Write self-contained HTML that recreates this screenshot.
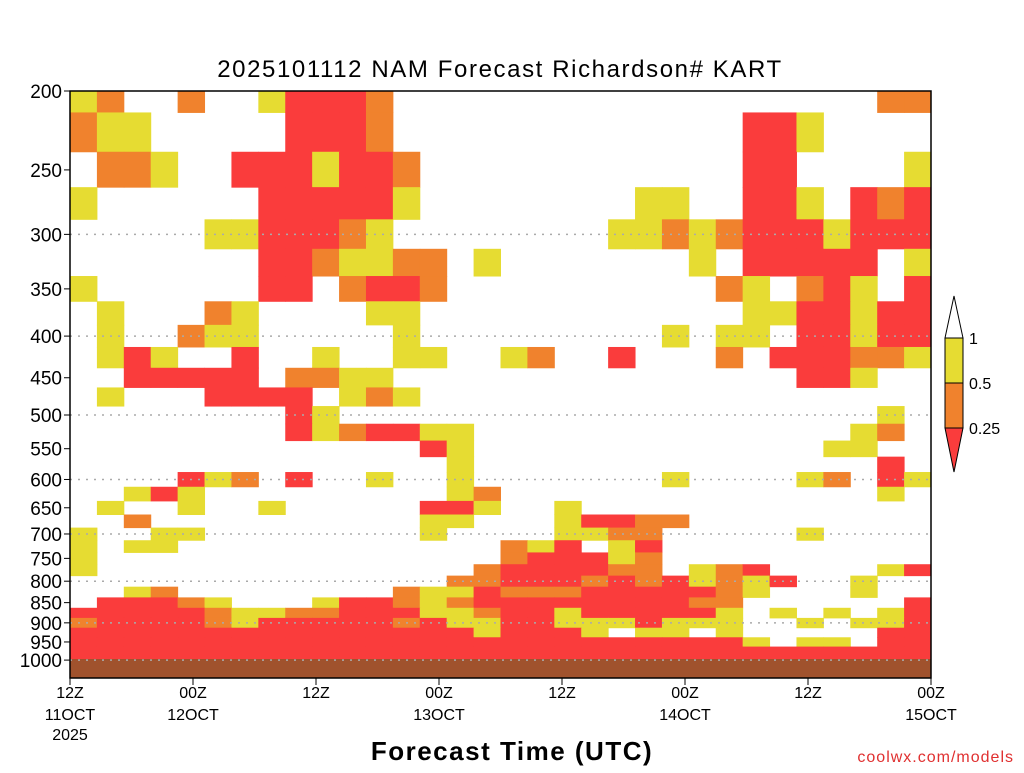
<!DOCTYPE html>
<html><head><meta charset="utf-8">
<style>
body{margin:0;background:#fff;}
svg text{font-family:"Liberation Sans",sans-serif;}
</style></head>
<body>
<svg id="chart" width="1024" height="768" xmlns="http://www.w3.org/2000/svg">
<text x="500" y="77" text-anchor="middle" font-size="24" letter-spacing="1.6" fill="#000">2025101112 NAM Forecast Richardson# KART</text>
<g id="cells"></g>
<rect x="70" y="659" width="861" height="19" fill="#a0522d"/>
<g id="grid"></g>
<rect x="70" y="91" width="861" height="587" fill="none" stroke="#000" stroke-width="1.5"/>
<g id="yaxis"></g>
<g id="xaxis"></g>
<text x="512" y="760" text-anchor="middle" font-size="26" font-weight="bold" letter-spacing="1.5">Forecast Time (UTC)</text>
<text x="1014" y="762" text-anchor="end" font-size="16" fill="#e03030" font-family="Liberation Mono" letter-spacing="1">coolwx.com/models</text>
<g>
<polygon points="945,338 954,296 963,338" fill="#fff" stroke="#000"/>
<rect x="945" y="338" width="18" height="45" fill="#e6dc32" stroke="#000"/>
<rect x="945" y="383" width="18" height="45" fill="#f0822d" stroke="#000"/>
<polygon points="945,428 963,428 954,472" fill="#fa3c3c" stroke="#000"/>
<text x="969" y="344" font-size="16">1</text>
<text x="969" y="389" font-size="16">0.5</text>
<text x="969" y="434" font-size="16">0.25</text>
</g>
</svg>
<script>
const levels=[200,225,250,275,300,325,350,375,400,425,450,475,500,525,550,575,600,625,650,675,700,725,750,775,800,825,850,875,900,925,950,975,1000];
const rows=[
"yo..o..yrrro..................oo",
"oyy.....rrro.............rry....",
".ooy..rrryrro............rr....y",
"y......rrrrry........yy..rry.ror",
".....yyrrroy........yyoyorrryrrr",
".......rroyyoo.y.......y.rrrrr.y",
"y......rr.orro..........oy.ory.r",
".y...oy....yy............yyrryrr",
".y..oyy.....y.........y.yy.rryrr",
".yry..r..y..yy..yo..r...o.rrrooy",
"..rrrrr.ooyy...............rry..",
".y...rrrr.yoy...................",
"........ry....................y.",
"........ryorryy..............yo.",
".............ry.............yy..",
"..............y...............r.",
"....ryo.r..y..y.......y....yo.ry",
"..yry.........yo..............y.",
".y..y..y.....rry..y.............",
"..o..........yy...yrroo.........",
"y..yy........y....yyoo.....y....",
"y.yy............oyr.yr..........",
"y...............orrryo..........",
"y..............orrrroo.yor....yr",
"..............oorrrororyoyr..y..",
"..yo........oyyrooorrrrroy...y..",
".rrroy...yrroyorrrrrrrroo......r",
"rrrrroyyoorrryyorryrrrrry.y.y.yr",
"orrrroyrrrrroryyrryyyryyy..y.yyr",
"rrrrrrrrrrrrrrryrrry.yy.y.....rr",
"rrrrrrrrrrrrrrrrrrrrrrrrry.yy.rr",
"rrrrrrrrrrrrrrrrrrrrrrrrrrrrrrrr",
"rrrrrrrrrrrrrrrrrrrrrrrrrrrrrrrr"];
const yTicks=[200,250,300,350,400,450,500,550,600,650,700,750,800,850,900,950,1000];
const gridLevels=[300,400,500,600,700,800,900,1000];
const xTickHours=[0,12,24,36,48,60,72,84];
const xTickTop=["12Z","00Z","12Z","00Z","12Z","00Z","12Z","00Z"];
const xTickBottom=["11OCT","12OCT","","13OCT","","14OCT","","15OCT"];
const colors={y:"#e6dc32",o:"#f0822d",r:"#fa3c3c"};
const NS="http://www.w3.org/2000/svg";
const X0=70,X1=931,Y0=91,YB=678,HMAX=84,NC=32;
function xs(h){return X0+(X1-X0)*h/HMAX;}
function ys(p){return Y0+353.6*Math.log(p/200);}
function mk(t,a,par){const e=document.createElementNS(NS,t);for(const k in a)e.setAttribute(k,a[k]);par.appendChild(e);return e;}
const cells=document.getElementById('cells');
rows.forEach((row,li)=>{
  const p=levels[li];
  const yt=Math.max(Y0,ys(p-12.5)),yb=Math.min(YB,ys(p+12.5));
  for(let i=0;i<NC;i++){
    const c=row[i];if(!colors[c])continue;
    const h0=i*HMAX/NC,h1=(i+1)*HMAX/NC;
    const r=mk('rect',{x:xs(h0),y:yt,width:xs(h1)-xs(h0)+0.5,height:yb-yt+0.5,fill:colors[c]},cells);
    
    
  }
});
const grid=document.getElementById('grid');
gridLevels.forEach(p=>{
  const l=mk('line',{x1:X0,x2:X1,y1:ys(p),y2:ys(p),stroke:"#aaa","stroke-dasharray":"2,6","stroke-width":1.5},grid);
  
  
});
const ya=document.getElementById('yaxis');
yTicks.forEach(p=>{
  const y=ys(p);
  const l=mk('line',{x1:X0-6,x2:X0,y1:y,y2:y,stroke:"#000"},ya);
  
  
  const t=mk('text',{x:X0-8,y:y+7,"text-anchor":"end","font-size":"19"},ya);
  t.textContent=p;
  
  
});
const xa=document.getElementById('xaxis');
xTickHours.forEach((h,i)=>{
  const x=xs(h);
  const l=mk('line',{x1:x,x2:x,y1:YB,y2:YB+7,stroke:"#000"},xa);
  
  
  const t=mk('text',{x:x,y:698,"text-anchor":"middle","font-size":"16"},xa);
  t.textContent=xTickTop[i];
  
  
  if(xTickBottom[i]){
    const t2=mk('text',{x:x,y:720,"text-anchor":"middle","font-size":"16"},xa);
    t2.textContent=xTickBottom[i];
    
    
  }
});
const yr=mk('text',{x:X0,y:740,"text-anchor":"middle","font-size":"16"},xa);
yr.textContent="2025";


</script>
</body></html>
